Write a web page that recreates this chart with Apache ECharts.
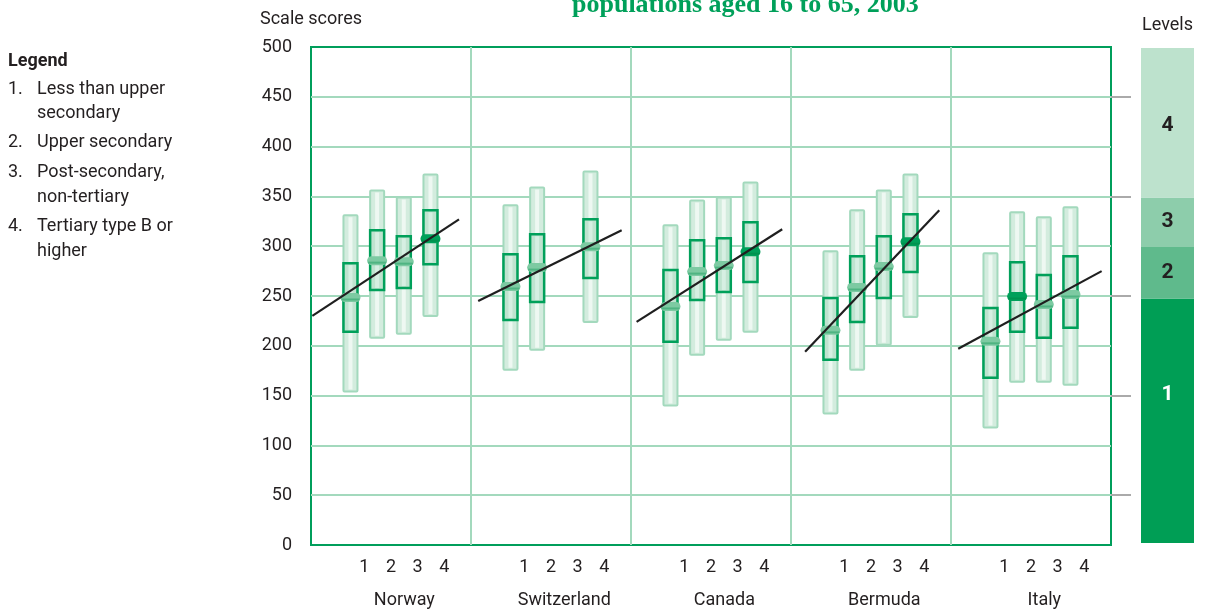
<!DOCTYPE html>
<html>
<head>
    <meta charset="utf-8">
    <title>Scale scores by education</title>
    <script src="https://cdn.jsdelivr.net/npm/echarts@6.0.0/dist/echarts.min.js"></script>
    <style>
        body { margin: 0; background: #fff; }
    </style>
</head>
<body>
<div id="main" style="width: 1206px;height:613px"></div>
<script type="text/javascript">

    // countries and education levels
    var countries = ['Norway', 'Switzerland', 'Canada', 'Bermuda', 'Italy'];
    var eduLevels = ['1', '2', '3', '4'];

    // 5th percentile, 25th, mean, 75th, 95th  (one row per country, one value per level)
    var p5 = [
        [154, 208, 212, 230],
        [176, 196, null, 224],
        [140, 191, 206, 214],
        [132, 176, 201, 229],
        [118, 164, 164, 161]
    ];
    var p25 = [
        [214, 256, 258, 282],
        [226, 244, null, 268],
        [204, 246, 254, 264],
        [186, 224, 248, 274],
        [168, 214, 208, 218]
    ];
    var means = [
        [248, 285, 284, 307],
        [259, 278, null, 299],
        [239, 274, 280, 294],
        [215, 258, 279, 304],
        [204, 249, 241, 251]
    ];
    var p75 = [
        [283, 316, 310, 336],
        [292, 312, null, 327],
        [276, 306, 308, 324],
        [248, 290, 310, 332],
        [238, 284, 271, 290]
    ];
    var p95 = [
        [331, 356, 349, 372],
        [341, 359, null, 375],
        [321, 346, 349, 364],
        [295, 336, 356, 372],
        [293, 334, 329, 339]
    ];
    // mean marker drawn dark
    var darkMean = [
        [0, 0, 0, 1],
        [0, 0, 0, 0],
        [0, 0, 0, 1],
        [0, 0, 0, 1],
        [0, 1, 0, 0]
    ];

    // trend lines: start/end inside each country panel (panel is 6 units wide)
    var trendX0 = [0.05, 0.27, 0.21, 0.53, 0.27];
    var trendY0 = [230, 245, 224, 194, 197];
    var trendX1 = [5.55, 5.65, 5.67, 5.56, 5.65];
    var trendY1 = [327, 316, 317, 336, 275];

    // proficiency levels bar on the right
    var levelNames = ['1', '2', '3', '4'];
    var levelBounds = [0, 247, 299, 349, 500];
    var levelColors = ['#009e55', '#5fba8c', '#8dcdab', '#bde2cd'];

    var PANEL = 6;
    var FIRST_BOX = 1.48;
    var textColor = '#231f20';
    var font = 'Roboto, "Liberation Sans", sans-serif';

    var boxData = [];
    countries.forEach(function (c, ci) {
        eduLevels.forEach(function (e, ei) {
            if (means[ci][ei] == null) return;
            boxData.push([ci * PANEL + FIRST_BOX + ei, p5[ci][ei], p25[ci][ei], means[ci][ei], p75[ci][ei], p95[ci][ei], darkMean[ci][ei]]);
        });
    });

    function renderBox(params, api) {
        var x = api.value(0);
        var lo = api.coord([x, api.value(1)]);
        var q1 = api.coord([x, api.value(2)]);
        var m = api.coord([x, api.value(3)]);
        var q3 = api.coord([x, api.value(4)]);
        var hi = api.coord([x, api.value(5)]);
        var cx = lo[0];
        var dark = api.value(6) === 1;
        return {
            type: 'group',
            children: [
                {type: 'rect', shape: {x: cx - 7, y: hi[1], width: 14, height: lo[1] - hi[1], r: 1},
                    style: {fill: '#d3ecde', stroke: '#a3d9bd', lineWidth: 2}},
                {type: 'rect', shape: {x: cx - 2, y: hi[1] + 2, width: 4, height: lo[1] - hi[1] - 4},
                    style: {fill: '#eef8f2'}},
                {type: 'rect', shape: {x: cx - 7, y: q3[1], width: 14, height: q1[1] - q3[1]},
                    style: {fill: '#bfe3cf', stroke: '#00a05a', lineWidth: 2.5}},
                {type: 'rect', shape: {x: cx - 2, y: q3[1] + 2, width: 4, height: q1[1] - q3[1] - 4},
                    style: {fill: '#d6efe2'}},
                {type: 'rect', shape: {x: cx - 10, y: m[1] - 5, width: 20, height: 9, r: 4.5},
                    style: {fill: dark ? '#00a05a' : '#7dcaa2'}},
                {type: 'line', shape: {x1: cx - 9, y1: m[1] + 1.5, x2: cx + 9, y2: m[1] + 1.5},
                    style: {stroke: dark ? '#00924f' : '#4fb482', lineWidth: 2}}
            ]
        };
    }

    var trendSeries = countries.map(function (c, ci) {
        return {
            type: 'line',
            name: c,
            xAxisIndex: 0,
            yAxisIndex: 0,
            data: [[ci * PANEL + trendX0[ci], trendY0[ci]], [ci * PANEL + trendX1[ci], trendY1[ci]]],
            symbol: 'none',
            silent: true,
            z: 5,
            lineStyle: {color: '#1f1f1f', width: 2.2}
        };
    });

    var levelSeries = levelNames.map(function (n, i) {
        return {
            type: 'bar',
            name: 'Level ' + n,
            xAxisIndex: 3,
            yAxisIndex: 2,
            stack: 'levels',
            barWidth: '100%',
            data: [levelBounds[i + 1] - levelBounds[i]],
            itemStyle: {color: levelColors[i]},
            label: {
                show: true,
                position: 'inside',
                formatter: n,
                offset: i === 0 ? [0, -26] : (i === 3 ? [0, 3] : [0, 0]),
                color: i === 0 ? '#fff' : '#231f20',
                fontFamily: font,
                fontWeight: 'bold',
                fontSize: 21
            }
        };
    });

    var myChart = echarts.init(document.getElementById('main'));

    var legendLines = [
        ['Legend', 8, 61, true],
        ['1.', 8, 89], ['Less than upper', 37, 89], ['secondary', 37, 113],
        ['2.', 8, 142], ['Upper secondary', 37, 142],
        ['3.', 8, 172], ['Post-secondary,', 37, 172], ['non-tertiary', 37, 197],
        ['4.', 8, 226], ['Tertiary type B or', 37, 226], ['higher', 37, 251]
    ];

    myChart.setOption({
        animation: false,
        grid: [
            {left: 311, right: 95, top: 47, bottom: 68, show: true, borderColor: '#009e5b', borderWidth: 2},
            {left: 1141, right: 12, top: 48, bottom: 70}
        ],
        xAxis: [
            {   // panel separators
                type: 'value', gridIndex: 0, min: 0, max: 30, interval: PANEL, position: 'bottom',
                axisLine: {show: false, onZero: false}, axisTick: {show: false}, axisLabel: {show: false},
                splitLine: {show: true, showMinLine: false, showMaxLine: false, lineStyle: {color: '#a3d9bd', width: 2}}
            },
            {   // 1 2 3 4 under each panel
                type: 'value', gridIndex: 0, min: 0, max: 30, interval: 1, position: 'bottom',
                axisLine: {show: false, onZero: false}, axisTick: {show: false}, splitLine: {show: false},
                axisLabel: {
                    margin: 13, color: textColor, fontSize: 18, fontFamily: font,
                    formatter: function (v) {
                        var k = Math.round(v) % PANEL;
                        return (k >= 2 && k <= 5) ? eduLevels[k - 2] : '';
                    }
                }
            },
            {   // country names
                type: 'value', gridIndex: 0, min: 0, max: 30, interval: 0.5, position: 'bottom',
                axisLine: {show: false, onZero: false}, axisTick: {show: false}, splitLine: {show: false},
                axisLabel: {
                    margin: 46, color: textColor, fontSize: 18, fontFamily: font,
                    formatter: function (v) {
                        var k = Math.round(v * 2) % (PANEL * 2);
                        return k === 7 ? countries[Math.floor(v / PANEL)] : '';
                    }
                }
            },
            {
                type: 'category', gridIndex: 1, data: ['Levels'], position: 'top',
                axisLine: {show: false}, axisTick: {show: false},
                axisLabel: {margin: 14, color: textColor, fontSize: 18, fontFamily: font}
            }
        ],
        yAxis: [
            {
                type: 'value', gridIndex: 0, min: 0, max: 500, interval: 50,
                name: 'Scale scores', nameLocation: 'end', nameGap: 19,
                nameTextStyle: {color: textColor, fontSize: 18, fontFamily: font},
                axisLine: {show: false, onZero: false}, axisTick: {show: false},
                axisLabel: {margin: 19, color: textColor, fontSize: 18, fontFamily: font},
                splitLine: {show: true, showMinLine: false, showMaxLine: false, lineStyle: {color: '#a3d9bd', width: 2}}
            },
            {   // grey ticks on the right edge
                type: 'value', gridIndex: 0, min: 0, max: 500, position: 'right',
                axisLine: {show: false, onZero: false}, axisLabel: {show: false}, splitLine: {show: false},
                axisTick: {show: true, length: 20, customValues: [50, 150, 250, 350, 450], lineStyle: {color: '#aaaaaa', width: 2}}
            },
            {
                type: 'value', gridIndex: 1, min: 0, max: 500, show: false
            }
        ],
        graphic: [
            {
                type: 'text', left: 572, top: -8,
                style: {
                    text: 'populations aged 16 to 65, 2003',
                    fill: '#00a05a', font: 'bold 26px "Liberation Serif", serif'
                }
            }
        ].concat(legendLines.map(function (l) {
            return {
                type: 'text', x: l[1], y: l[2],
                style: {
                    text: l[0], fill: textColor, textVerticalAlign: 'middle',
                    font: (l[3] ? 'bold ' : '') + '18px ' + font
                }
            };
        })),
        series: [
            {
                type: 'custom',
                name: 'scores',
                xAxisIndex: 0,
                yAxisIndex: 0,
                renderItem: renderBox,
                encode: {x: 0, y: [1, 5]},
                data: boxData,
                z: 3
            }
        ].concat(trendSeries, levelSeries)
    });
</script>
</body>
</html>
